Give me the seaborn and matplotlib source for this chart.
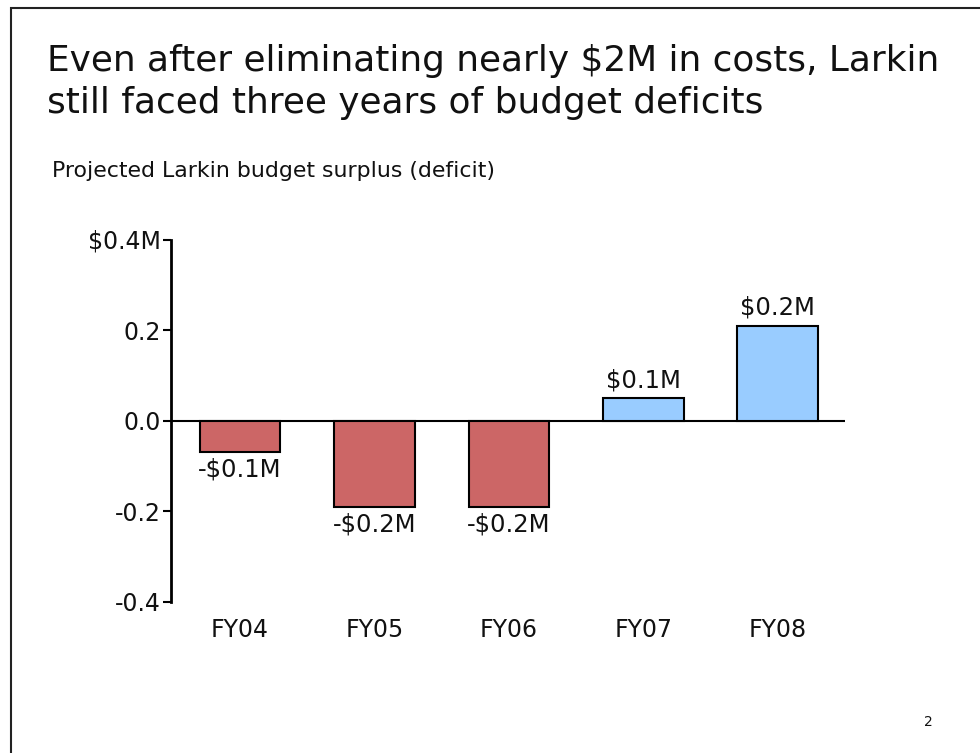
import matplotlib
matplotlib.use("Agg")
import matplotlib.pyplot as plt
import seaborn as sns
import pandas as pd
from matplotlib.patches import Rectangle

years = ["FY04", "FY05", "FY06", "FY07", "FY08"]
surplus = [-0.07, -0.19, -0.19, 0.05, 0.21]
value_labels = ["-$0.1M", "-$0.2M", "-$0.2M", "$0.1M", "$0.2M"]
bar_colors = ["#CC6666", "#CC6666", "#CC6666", "#99CCFF", "#99CCFF"]
ytick_vals = [-0.4, -0.2, 0.0, 0.2, 0.4]
ytick_labels = ["-0.4", "-0.2", "0.0", "0.2", "$0.4M"]
title_lines = ["Even after eliminating nearly $2M in costs, Larkin",
               "still faced three years of budget deficits"]
subtitle = "Projected Larkin budget surplus (deficit)"

sns.set_theme(style="white")
plt.rcParams["font.family"] = ["DejaVu Sans"]

df = pd.DataFrame({"year": years, "surplus": surplus})

fig = plt.figure(figsize=(9.8, 7.53), dpi=100)
ax = fig.add_axes([171/980, 1 - 601.7/753, (845 - 171)/980, (601.7 - 239.5)/753])

sns.barplot(data=df, x="year", y="surplus", hue="year", palette=bar_colors,
            width=0.6, edgecolor="black", linewidth=1.5, legend=False, ax=ax,
            saturation=1)

for cont, lab in zip(ax.containers, value_labels):
    ax.bar_label(cont, labels=[lab], padding=4, fontsize=17.5, color="#111111")

ax.axhline(0, color="black", lw=1.5, zorder=0.5)
ax.set_xlim(-0.513, 4.5)
ax.set_ylim(-0.4, 0.4)
ax.set_yticks(ytick_vals)
ax.set_yticklabels(ytick_labels)
ax.set_xlabel("")
ax.set_ylabel("")
for s in ["top", "right", "bottom"]:
    ax.spines[s].set_visible(False)
ax.spines["left"].set_color("black")
ax.spines["left"].set_linewidth(2)
ax.tick_params(axis="y", which="both", left=True, direction="out", length=5.5,
               width=1.5, color="black", labelsize=17, pad=2, labelcolor="#111111")
ax.tick_params(axis="x", bottom=False, labelsize=17, pad=6, labelcolor="#111111")

fig.text(47/980, 1 - 71/753, title_lines[0], fontsize=25.8, ha="left", va="baseline", color="#111111")
fig.text(47/980, 1 - 113/753, title_lines[1], fontsize=25.8, ha="left", va="baseline", color="#111111")
fig.text(52/980, 1 - 177/753, subtitle, fontsize=15.8, ha="left", va="baseline", color="#111111")
fig.text(928/980, 1 - 725.5/753, "2", fontsize=10, ha="center", va="baseline", color="#111111")

fig.patches.append(Rectangle((11/980, -0.1), 1.2, 1 - 8/753 + 0.1, transform=fig.transFigure,
                             fill=False, edgecolor="#222222", lw=1.5))

fig.savefig("out.png", dpi=100)
